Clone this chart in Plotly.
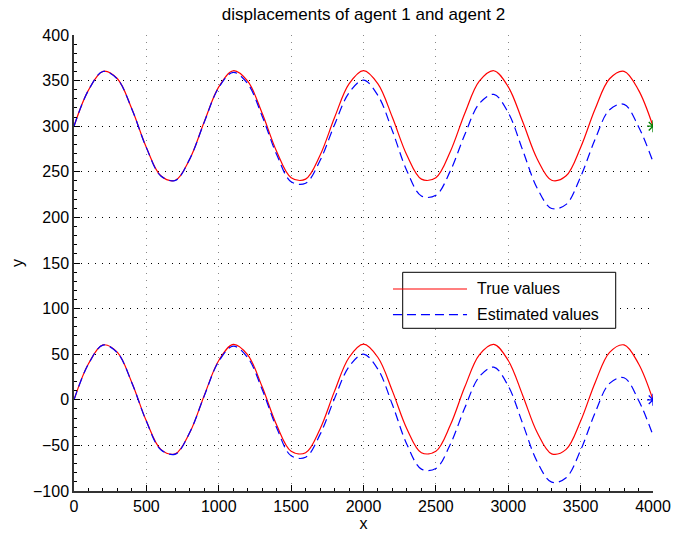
import plotly.graph_objects as go

# sample positions along x
x_samples = [0, 100, 200, 300, 400, 500, 600, 700, 800, 900,
             1000, 1100, 1200, 1300, 1400, 1500, 1600, 1700, 1800, 1900,
             2000, 2100, 2200, 2300, 2400, 2500, 2600, 2700, 2800, 2900,
             3000, 3100, 3200, 3300, 3400, 3500, 3600, 3700, 3800, 3900, 4000]

# agent 1 (offset around 300)
true_agent1 = [300.0, 339.6, 360.2, 352.0, 318.8, 276.7, 245.6, 240.7, 264.1, 304.8,
               343.1, 360.8, 349.3, 314.2, 272.3, 243.6, 242.0, 268.1, 309.5, 346.4,
               361.0, 346.4, 309.5, 268.1, 242.0, 243.6, 272.3, 314.2, 349.3, 360.8,
               343.1, 304.8, 264.1, 240.7, 245.6, 276.7, 318.8, 352.0, 360.2, 339.6, 300.0]
est_agent1 = [300.0, 339.4, 360.0, 351.7, 318.6, 276.5, 245.4, 240.5, 264.2, 304.5,
              342.3, 359.0, 346.6, 311.0, 269.0, 239.1, 237.5, 262.4, 301.7, 336.5,
              350.5, 333.6, 294.7, 251.0, 223.5, 224.2, 251.0, 290.8, 324.8, 334.9,
              314.9, 273.6, 232.0, 209.8, 214.3, 244.6, 285.6, 318.1, 324.0, 299.4, 261.0]

# agent 2 (offset around 0)
true_agent2 = [0.0, 39.6, 60.2, 52.0, 18.8, -23.3, -54.4, -59.3, -35.9, 4.8,
               43.1, 60.8, 49.3, 14.2, -27.7, -56.4, -58.0, -31.9, 9.5, 46.4,
               61.0, 46.4, 9.5, -31.9, -58.0, -56.4, -27.7, 14.2, 49.3, 60.8,
               43.1, 4.8, -35.9, -59.3, -54.4, -23.3, 18.8, 52.0, 60.2, 39.6, 0.0]
est_agent2 = [0.0, 39.3, 60.0, 51.5, 18.5, -23.6, -54.8, -59.6, -35.6, 4.3,
              42.1, 58.8, 46.3, 11.2, -30.7, -61.4, -63.0, -37.9, 1.5, 36.4,
              50.0, 33.4, -5.5, -48.9, -76.0, -75.4, -48.7, -8.8, 25.3, 35.8,
              15.1, -26.2, -67.9, -90.3, -85.4, -55.3, -14.2, 18.0, 24.2, -0.4, -39.0]

# final positions marked with stars
end_x = [4000]
end_agent1 = [300]
end_agent2 = [0]

x_ticks = [0, 500, 1000, 1500, 2000, 2500, 3000, 3500, 4000]
y_ticks = [-100, -50, 0, 50, 100, 150, 200, 250, 300, 350, 400]

legend_labels = ["True values", "Estimated values"]

RED = "#ff0000"
BLUE = "#0000ff"
GREEN = "#008000"
DASH = "9px,5px"
FONT = "Liberation Sans, Arial, Helvetica, sans-serif"

fig = go.Figure()

for true_vals, est_vals in [(true_agent1, est_agent1), (true_agent2, est_agent2)]:
    fig.add_trace(go.Scatter(x=x_samples, y=true_vals, mode="lines",
                             line=dict(color=RED, width=1.2, shape="spline"),
                             name=legend_labels[0], showlegend=False))
    fig.add_trace(go.Scatter(x=x_samples, y=est_vals, mode="lines",
                             line=dict(color=BLUE, width=1.2, dash=DASH, shape="spline"),
                             name=legend_labels[1], showlegend=False))

for end_vals, colour in [(end_agent1, GREEN), (end_agent2, BLUE)]:
    fig.add_trace(go.Scatter(x=end_x, y=end_vals, mode="markers",
                             marker=dict(symbol="asterisk-open", size=10, color=colour,
                                         line=dict(color=colour, width=1.3)),
                             showlegend=False))

# boxed legend drawn in plot-area coordinates
lx0, lx1, ly0, ly1 = 0.5677, 0.9356, 0.3568, 0.4796
fig.add_shape(type="rect", xref="paper", yref="paper", x0=lx0, x1=lx1, y0=ly0, y1=ly1,
              line=dict(color="black", width=1), fillcolor="white", layer="above")
row_y = [0.443, 0.387]
styles = [dict(color=RED, width=1.2), dict(color=BLUE, width=1.2, dash=DASH)]
for label, yy, st in zip(legend_labels, row_y, styles):
    fig.add_shape(type="line", xref="paper", yref="paper", x0=0.5509, x1=0.6788,
                  y0=yy, y1=yy, line=st, layer="above")
    fig.add_annotation(xref="paper", yref="paper", x=0.6925, y=yy, text=label,
                       showarrow=False, xanchor="left", yanchor="middle",
                       font=dict(family=FONT, size=16, color="black"))

axis_common = dict(
    ticks="inside", ticklen=6, tickcolor="black", tickwidth=1,
    showline=True, linecolor="#333333", linewidth=1.5, mirror=False,
    showgrid=True, gridwidth=1, zeroline=False,
    tickfont=dict(family=FONT, size=16, color="black"),
)

fig.update_layout(
    width=673, height=535,
    margin=dict(l=74, r=20, t=35, b=44),
    paper_bgcolor="white", plot_bgcolor="white",
    font=dict(family=FONT, size=16, color="black"),
    title=dict(text="displacements of agent 1 and agent 2", x=0.5, xref="paper",
               y=1 - 14 / 535, yref="container", xanchor="center", yanchor="middle",
               font=dict(family=FONT, size=17, color="black")),
    showlegend=False,
    xaxis=dict(range=[0, 4000], tickvals=x_ticks, gridcolor="#888888", griddash="1px,6px",
               minor=dict(dtick=100, ticks="inside", ticklen=3, tickcolor="black",
                          showgrid=False),
               title=dict(text="x", standoff=0, font=dict(family=FONT, size=16)),
               automargin=False, **axis_common),
    yaxis=dict(range=[-100, 400], tickvals=y_ticks, gridcolor="black", griddash="1px,6px",
               minor=dict(dtick=10, ticks="inside", ticklen=3, tickcolor="black",
                          showgrid=False),
               title=dict(text="y", standoff=5, font=dict(family=FONT, size=16)),
               automargin=False, **axis_common),
)

fig.write_html("out.html")
